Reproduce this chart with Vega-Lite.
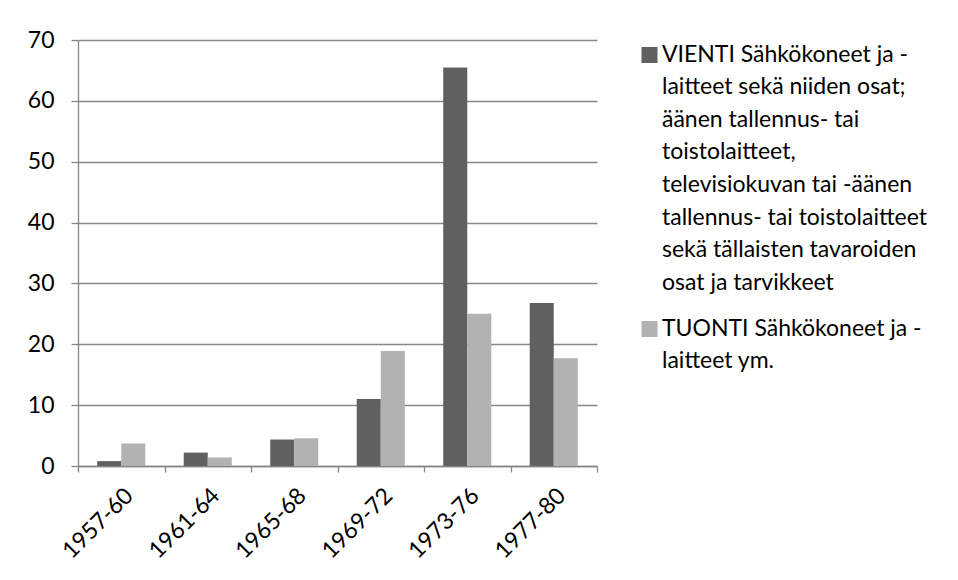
{
  "$schema": "https://vega.github.io/schema/vega-lite/v6.json",
  "autosize": {"type": "none"},
  "padding": {"left": 78, "top": 40, "right": 361, "bottom": 114},
  "width": 519,
  "height": 426,
  "background": "white",
  "data": {
    "values": [
      {"period": "1957-60", "series": "VIENTI Sähkökoneet ja -laitteet sekä niiden osat; äänen tallennus- tai toistolaitteet, televisiokuvan tai -äänen tallennus- tai toistolaitteet sekä tällaisten tavaroiden osat ja tarvikkeet", "value": 0.8},
      {"period": "1957-60", "series": "TUONTI Sähkökoneet ja -laitteet ym.", "value": 3.7},
      {"period": "1961-64", "series": "VIENTI Sähkökoneet ja -laitteet sekä niiden osat; äänen tallennus- tai toistolaitteet, televisiokuvan tai -äänen tallennus- tai toistolaitteet sekä tällaisten tavaroiden osat ja tarvikkeet", "value": 2.2},
      {"period": "1961-64", "series": "TUONTI Sähkökoneet ja -laitteet ym.", "value": 1.4},
      {"period": "1965-68", "series": "VIENTI Sähkökoneet ja -laitteet sekä niiden osat; äänen tallennus- tai toistolaitteet, televisiokuvan tai -äänen tallennus- tai toistolaitteet sekä tällaisten tavaroiden osat ja tarvikkeet", "value": 4.35},
      {"period": "1965-68", "series": "TUONTI Sähkökoneet ja -laitteet ym.", "value": 4.55},
      {"period": "1969-72", "series": "VIENTI Sähkökoneet ja -laitteet sekä niiden osat; äänen tallennus- tai toistolaitteet, televisiokuvan tai -äänen tallennus- tai toistolaitteet sekä tällaisten tavaroiden osat ja tarvikkeet", "value": 11.0},
      {"period": "1969-72", "series": "TUONTI Sähkökoneet ja -laitteet ym.", "value": 18.9},
      {"period": "1973-76", "series": "VIENTI Sähkökoneet ja -laitteet sekä niiden osat; äänen tallennus- tai toistolaitteet, televisiokuvan tai -äänen tallennus- tai toistolaitteet sekä tällaisten tavaroiden osat ja tarvikkeet", "value": 65.5},
      {"period": "1973-76", "series": "TUONTI Sähkökoneet ja -laitteet ym.", "value": 25.0},
      {"period": "1977-80", "series": "VIENTI Sähkökoneet ja -laitteet sekä niiden osat; äänen tallennus- tai toistolaitteet, televisiokuvan tai -äänen tallennus- tai toistolaitteet sekä tällaisten tavaroiden osat ja tarvikkeet", "value": 26.8},
      {"period": "1977-80", "series": "TUONTI Sähkökoneet ja -laitteet ym.", "value": 17.7}
    ]
  },
  "mark": {"type": "bar"},
  "encoding": {
    "x": {
      "field": "period",
      "type": "nominal",
      "scale": {"paddingInner": 0, "paddingOuter": 0},
      "axis": {
        "title": null,
        "labelAngle": -45,
        "labelAlign": "right",
        "labelBaseline": "top",
        "labelFontSize": 23,
        "labelFont": "Lato",
        "labelColor": "black",
        "domainColor": "#868686",
        "domainWidth": 1.3,
        "tickColor": "#868686",
        "tickWidth": 1.3,
        "tickSize": 6,
        "tickBand": "extent",
        "labelPadding": 12
      }
    },
    "xOffset": {
      "field": "series",
      "type": "nominal",
      "sort": ["VIENTI Sähkökoneet ja -laitteet sekä niiden osat; äänen tallennus- tai toistolaitteet, televisiokuvan tai -äänen tallennus- tai toistolaitteet sekä tällaisten tavaroiden osat ja tarvikkeet", "TUONTI Sähkökoneet ja -laitteet ym."],
      "scale": {"paddingInner": 0, "paddingOuter": 0.8}
    },
    "y": {
      "field": "value",
      "type": "quantitative",
      "scale": {"domain": [0, 70], "nice": false},
      "axis": {
        "title": null,
        "values": [0, 10, 20, 30, 40, 50, 60, 70],
        "labelFontSize": 23,
        "labelFont": "Lato",
        "labelColor": "black",
        "domainColor": "#868686",
        "domainWidth": 1.3,
        "tickColor": "#868686",
        "tickWidth": 1.3,
        "tickSize": 7,
        "labelPadding": 17,
        "gridColor": "#868686",
        "gridWidth": 1.3
      }
    },
    "color": {
      "field": "series",
      "type": "nominal",
      "scale": {
        "domain": ["VIENTI Sähkökoneet ja -laitteet sekä niiden osat; äänen tallennus- tai toistolaitteet, televisiokuvan tai -äänen tallennus- tai toistolaitteet sekä tällaisten tavaroiden osat ja tarvikkeet", "TUONTI Sähkökoneet ja -laitteet ym."],
        "range": ["#606060", "#b2b2b2"]
      },
      "legend": {
        "title": null,
        "orient": "none",
        "direction": "vertical",
        "legendX": 560,
        "legendY": -8,
        "padding": 0,
        "symbolType": "M-1,0.44H1V2.44H-1Z",
        "symbolSize": 256,
        "symbolStrokeWidth": 0,
        "labelFontSize": 23,
        "labelFont": "Lato",
        "labelColor": "black",
        "labelLimit": 400,
        "labelOffset": 1,
        "labelBaseline": "top",
        "rowPadding": 11,
        "labelExpr": "indexof(datum.label, 'VIENTI') == 0 ? ['VIENTI Sähkökoneet ja -', 'laitteet sekä niiden osat;', 'äänen tallennus- tai', 'toistolaitteet,', 'televisiokuvan tai -äänen', 'tallennus- tai toistolaitteet', 'sekä tällaisten tavaroiden', 'osat ja tarvikkeet'] : ['TUONTI Sähkökoneet ja -', 'laitteet ym.']"
      }
    }
  },
  "config": {
    "view": {"stroke": null},
    "style": {"guide-label": {"lineHeight": 32.6}}
  }
}
